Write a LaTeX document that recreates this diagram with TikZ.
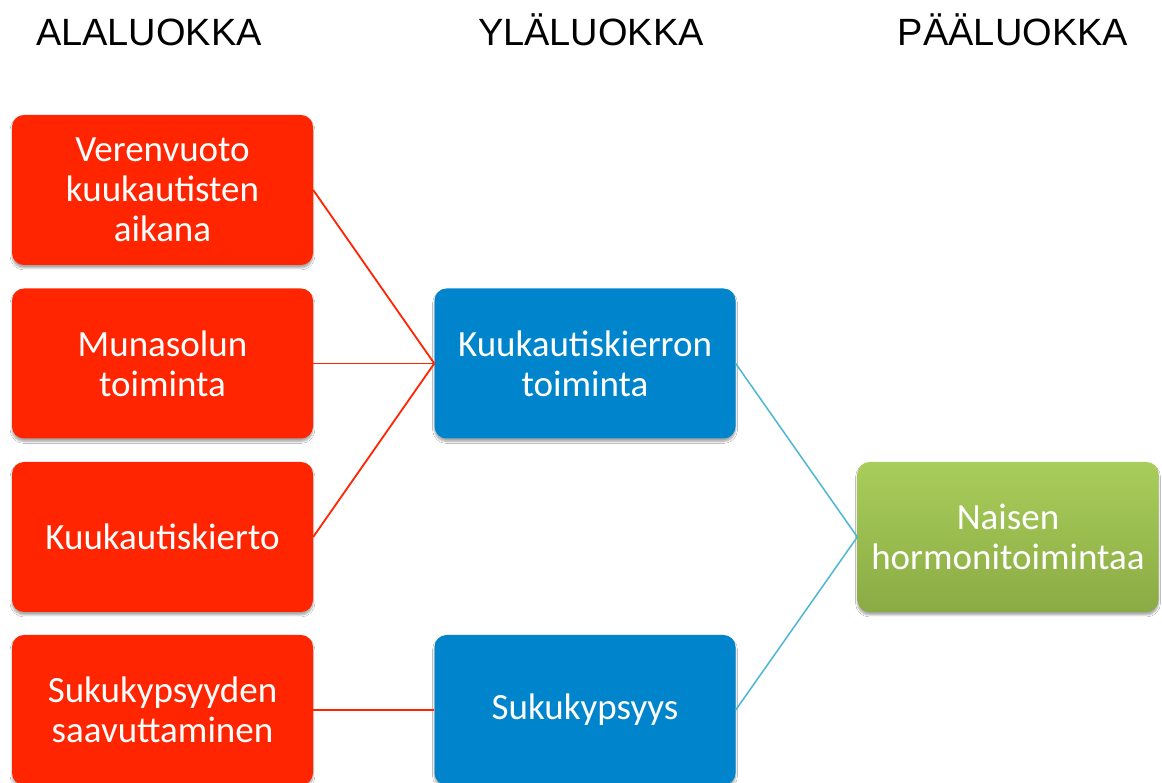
\documentclass[tikz,border=0pt]{standalone}
\usepackage{fontspec}
\setmainfont{Carlito}
\newfontfamily\hdrfont{Liberation Sans}
\usetikzlibrary{shadows.blur}
\definecolor{redbox}{HTML}{FF2500}
\definecolor{bluebox}{HTML}{0085CC}
\definecolor{greentop}{HTML}{A9CD5B}
\definecolor{greenbot}{HTML}{8AAB44}
\definecolor{redline}{HTML}{FF2500}
\definecolor{cyanline}{HTML}{4DB6D3}
\begin{document}
\begin{tikzpicture}[x=1pt,y=1pt,
  box/.style={rounded corners=12pt, minimum width=301pt, minimum height=150pt,
    text width=298pt, align=center, text=white, inner sep=0pt,
    font=\fontsize{37}{40}\selectfont,
    blur shadow={shadow xshift=0pt, shadow yshift=-3pt, shadow blur steps=6,
      shadow blur extra rounding=2pt, shadow opacity=35}},
  redb/.style={box, fill=redbox},
  blueb/.style={box, fill=bluebox},
  greenb/.style={box, top color=greentop, bottom color=greenbot},
  hdr/.style={font=\hdrfont\fontsize{38}{40}\selectfont, anchor=base, inner sep=0pt},
  redl/.style={draw=redline, line width=1.8pt},
  cyanl/.style={draw=cyanline, line width=1.5pt}]
\useasboundingbox (0,0) rectangle (1162,783);
\fill[white] (0,0) rectangle (1162,783);

\node[hdr] (h1) at (149,737) {ALALUOKKA};
\node[hdr] (h2) at (591,737) {YLÄLUOKKA};
\node[hdr] (h3) at (1013,737) {PÄÄLUOKKA};

\node[redb] (r1) at (162.5,593) {Verenvuoto\\kuukautisten\\aikana};
\node[redb] (r2) at (162.5,419.5) {Munasolun\\toiminta};
\node[redb] (r3) at (162.5,246) {Kuukautiskierto};
\node[redb] (r4) at (162.5,73) {Sukukypsyyden\\saavuttaminen};

\node[blueb] (b1) at (585,419.5) {Kuukautiskierron\\toiminta};
\node[blueb] (b2) at (585,73) {Sukukypsyys};

\node[greenb] (g1) at (1008,246) {Naisen\\hormonitoimintaa};

\draw[redl] (r1.east) -- (b1.west);
\draw[redl] (r2.east) -- (b1.west);
\draw[redl] (r3.east) -- (b1.west);
\draw[redl] (r4.east) -- (b2.west);
\draw[cyanl] (b1.east) -- (g1.west);
\draw[cyanl] (b2.east) -- (g1.west);
\end{tikzpicture}
\end{document}
